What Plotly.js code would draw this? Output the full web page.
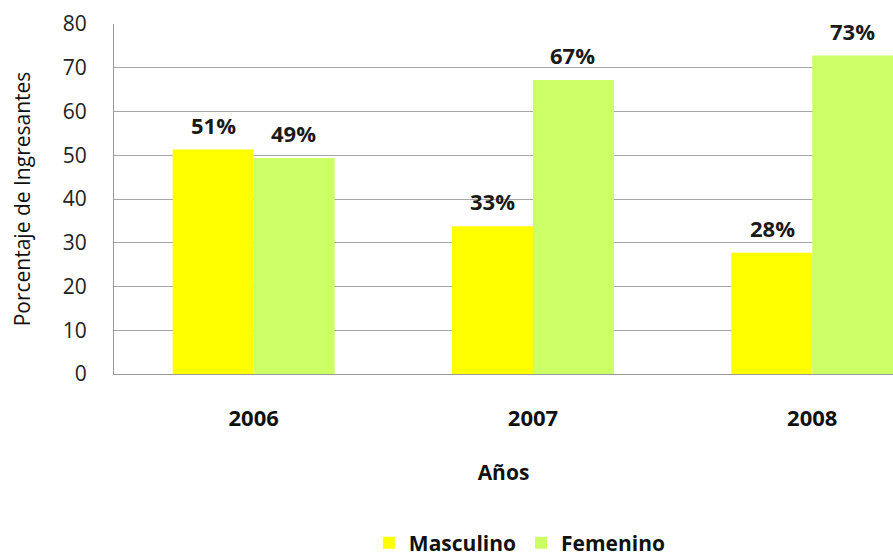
<!DOCTYPE html>
<html><head><meta charset="utf-8">
<script src="https://cdn.plot.ly/plotly-3.0.1.min.js"></script>
<style>html,body{margin:0;padding:0;overflow:hidden;background:#fff}</style>
</head><body>
<div id="chart" style="width:893px;height:558px"></div>
<script>
const years = ['2006', '2007', '2008'];
const masculino = [51.3, 33.8, 27.7];
const femenino = [49.4, 67.2, 72.8];
const masculinoLabels = ['51%', '33%', '28%'];
const femeninoLabels = ['49%', '67%', '73%'];
const yTicks = [0, 10, 20, 30, 40, 50, 60, 70, 80];

const FONT = 'Open Sans, Noto Sans, sans-serif';
const traces = [
  {type: 'bar', name: 'Masculino', x: years, y: masculino, marker: {color: '#FFFF00'}, hoverinfo: 'none'},
  {type: 'bar', name: 'Femenino', x: years, y: femenino, marker: {color: '#CCFF66'}, hoverinfo: 'none'}
];
const ann = [];
years.forEach((yr, i) => {
  ann.push({x: i, xshift: -40, y: masculino[i], yshift: 25, text: '<b>' + masculinoLabels[i] + '</b>', showarrow: false, font: {family: FONT, size: 22, color: '#1a1a1a'}, xref: 'x', yref: 'y'});
  ann.push({x: i, xshift: 40, y: femenino[i], yshift: 25, text: '<b>' + femeninoLabels[i] + '</b>', showarrow: false, font: {family: FONT, size: 22, color: '#1a1a1a'}, xref: 'x', yref: 'y'});
});
const layout = {
  width: 893, height: 558,
  margin: {l: 114, r: 0, t: 24, b: 184, autoexpand: false},
  paper_bgcolor: '#fff', plot_bgcolor: '#fff',
  font: {family: FONT, size: 20, color: '#222'},
  barmode: 'group', bargap: 0.42, bargroupgap: 0,
  showlegend: true,
  legend: {orientation: 'h', x: 0.521, xanchor: 'center', y: -0.483, yanchor: 'middle', font: {family: FONT, size: 21, color: '#111', weight: 'bold'}, itemwidth: 30, tracegroupgap: 0},
  xaxis: {
    type: 'category', range: [-0.5, 2.289], automargin: true,
    showgrid: false, showline: true, linecolor: '#9a9a9a', linewidth: 1,
    ticks: '', ticklabelstandoff: 25,
    tickfont: {family: FONT, size: 22, color: '#111', weight: 'bold'},
    title: {text: '<b>Años</b>', font: {family: FONT, size: 21, color: '#111'}, standoff: 33}
  },
  yaxis: {
    range: [0, 80], tickvals: yTicks, ticktext: yTicks.map(String), automargin: true,
    showgrid: true, gridcolor: '#a6a6a6', gridwidth: 1,
    showline: true, linecolor: '#9a9a9a', linewidth: 1,
    zeroline: false, ticks: '', ticklabelstandoff: 22,
    tickfont: {family: FONT, size: 21, color: '#222'},
    title: {text: 'Porcentaje de Ingresantes', font: {family: FONT, size: 21, color: '#111'}, standoff: 26}
  },
  annotations: ann
};
Plotly.newPlot('chart', traces, layout, {staticPlot: true, displayModeBar: false});
</script>
</body></html>
